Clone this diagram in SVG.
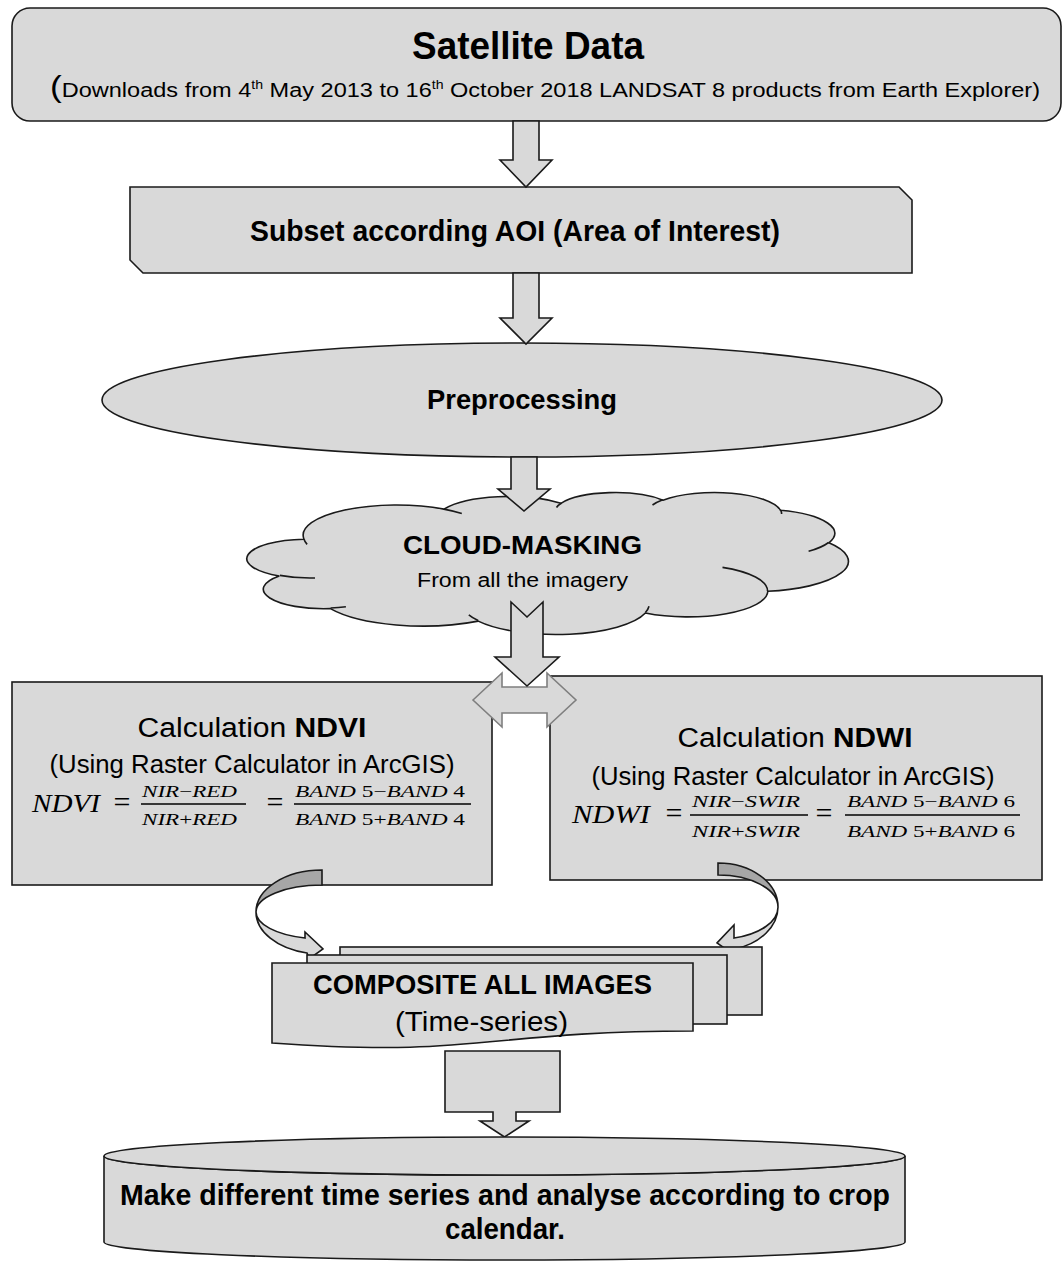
<svg xmlns="http://www.w3.org/2000/svg" width="1063" height="1262" viewBox="0 0 1063 1262">
<style>
.s{fill:#d9d9d9;stroke:#1a1a1a;stroke-width:1.6}
.t{font-family:"Liberation Sans",Arial,sans-serif;fill:#000}
.b{font-weight:bold}
.m{font-family:"Liberation Serif","Times New Roman",serif;font-style:italic;fill:#000}
.u{font-style:normal}
.fl{stroke:#000;stroke-width:1.3}
.dk{fill:#a6a6a6;stroke:#1a1a1a;stroke-width:1.6}
.g{fill:#d9d9d9;stroke:#7f7f7f;stroke-width:1.6}
.in{fill:none;stroke:#1a1a1a;stroke-width:1.6}
</style>
<rect width="1063" height="1262" fill="#fff"/>
<g id="satellite-data">
<rect class="s" x="12" y="8" width="1049" height="113" rx="18"/>
<text class="t b" x="528" y="59" font-size="38" text-anchor="middle" textLength="232" lengthAdjust="spacingAndGlyphs">Satellite Data</text>
<text class="t" x="50" y="97" font-size="20" textLength="990" lengthAdjust="spacingAndGlyphs"><tspan font-size="30">(</tspan>Downloads from 4<tspan font-size="12" dy="-8">th</tspan><tspan dy="8"> May 2013 to 16</tspan><tspan font-size="12" dy="-8">th</tspan><tspan dy="8"> October 2018 LANDSAT 8 products from Earth Explorer)</tspan></text>
</g>
<g id="subset-aoi">
<path class="s" d="M130,187 H899 L912,200 V273 H143 L130,260 Z"/>
<text class="t b" x="515" y="241" font-size="29" text-anchor="middle" textLength="530" lengthAdjust="spacingAndGlyphs">Subset according AOI (Area of Interest)</text>
</g>
<g id="preprocessing">
<ellipse class="s" cx="522" cy="400" rx="420" ry="57"/>
<text class="t b" x="522" y="409" font-size="28" text-anchor="middle" textLength="190" lengthAdjust="spacingAndGlyphs">Preprocessing</text>
</g>
<g id="cloud-masking">
<path class="s" d="M304.0,539.2 A93.5,30.2 0 0 1 443.9,509.1 A73.8,23.9 0 0 1 560.9,503.3 A60.4,19.5 0 0 1 663.0,500.2 A67.2,21.7 0 0 1 780.5,510.3 A73.8,23.9 0 0 1 828.9,542.8 A93.8,30.3 0 0 1 767.8,591.3 A80.1,25.9 0 0 1 645.4,613.0 A93.5,30.3 0 0 1 478.2,621.1 A106.9,34.7 0 0 1 330.4,608.6 A60.4,19.5 0 0 1 279.3,576.0 A60.1,19.5 0 0 1 304.0,539.2 Z"/>
<path class="in" d="M315.0,578.0 A60.1,19.5 0 0 1 279.9,575.4 M345.9,606.7 A60.4,19.5 0 0 1 330.6,608.0 M478.1,620.5 A93.5,30.3 0 0 1 468.8,614.8 M649.0,606.2 A93.5,30.3 0 0 1 645.4,612.5 M722.5,567.4 A80.1,25.9 0 0 1 767.5,590.9 M828.6,542.5 A73.8,23.9 0 0 1 808.6,551.3 M780.5,509.8 A67.2,21.7 0 0 1 781.6,514.0 M652.5,505.0 A67.2,21.7 0 0 1 662.8,499.7 M556.5,507.5 A60.4,19.5 0 0 1 561.5,503.0 M443.8,509.1 A93.5,30.2 0 0 1 461.8,513.5 M307.1,544.4 A93.5,30.2 0 0 1 304.0,539.2"/>
<text class="t b" x="522.5" y="554" font-size="26" text-anchor="middle" textLength="239" lengthAdjust="spacingAndGlyphs">CLOUD-MASKING</text>
<text class="t" x="522.5" y="587" font-size="20" text-anchor="middle" textLength="211" lengthAdjust="spacingAndGlyphs">From all the imagery</text>
</g>
<g id="ndvi">
<rect class="s" x="12" y="682" width="480" height="203"/>
<text class="t" x="252" y="737" font-size="27" text-anchor="middle" textLength="229" lengthAdjust="spacingAndGlyphs">Calculation <tspan class="b">NDVI</tspan></text>
<text class="t" x="252" y="773" font-size="25" text-anchor="middle" textLength="405" lengthAdjust="spacingAndGlyphs">(Using Raster Calculator in ArcGIS)</text>
<text class="m" x="32" y="812" font-size="25" textLength="68" lengthAdjust="spacingAndGlyphs">NDVI</text>
<text class="m u" x="122" y="812" font-size="30" text-anchor="middle">=</text>
<text class="m" x="142" y="797" font-size="16" textLength="95" lengthAdjust="spacingAndGlyphs">NIR<tspan class="u">−</tspan>RED</text>
<line class="fl" x1="141" y1="804" x2="246" y2="804"/>
<text class="m" x="142" y="825" font-size="16" textLength="95" lengthAdjust="spacingAndGlyphs">NIR<tspan class="u">+</tspan>RED</text>
<text class="m u" x="275" y="812" font-size="30" text-anchor="middle">=</text>
<text class="m" x="295" y="797" font-size="16" textLength="170" lengthAdjust="spacingAndGlyphs">BAND <tspan class="u">5−</tspan>BAND <tspan class="u">4</tspan></text>
<line class="fl" x1="294" y1="804" x2="471" y2="804"/>
<text class="m" x="295" y="825" font-size="16" textLength="170" lengthAdjust="spacingAndGlyphs">BAND <tspan class="u">5+</tspan>BAND <tspan class="u">4</tspan></text>
</g>
<g id="ndwi">
<rect class="s" x="550" y="676" width="492" height="204"/>
<text class="t" x="795" y="747" font-size="27" text-anchor="middle" textLength="235" lengthAdjust="spacingAndGlyphs">Calculation <tspan class="b">NDWI</tspan></text>
<text class="t" x="793" y="785" font-size="25" text-anchor="middle" textLength="403" lengthAdjust="spacingAndGlyphs">(Using Raster Calculator in ArcGIS)</text>
<text class="m" x="572" y="823" font-size="25" textLength="78" lengthAdjust="spacingAndGlyphs">NDWI</text>
<text class="m u" x="674" y="823" font-size="30" text-anchor="middle">=</text>
<text class="m" x="692" y="807" font-size="16" textLength="108" lengthAdjust="spacingAndGlyphs">NIR<tspan class="u">−</tspan>SWIR</text>
<line class="fl" x1="690" y1="815" x2="808" y2="815"/>
<text class="m" x="692" y="837" font-size="16" textLength="108" lengthAdjust="spacingAndGlyphs">NIR<tspan class="u">+</tspan>SWIR</text>
<text class="m u" x="824" y="823" font-size="30" text-anchor="middle">=</text>
<text class="m" x="847" y="807" font-size="16" textLength="168" lengthAdjust="spacingAndGlyphs">BAND <tspan class="u">5−</tspan>BAND <tspan class="u">6</tspan></text>
<line class="fl" x1="845" y1="815" x2="1020" y2="815"/>
<text class="m" x="847" y="837" font-size="16" textLength="168" lengthAdjust="spacingAndGlyphs">BAND <tspan class="u">5+</tspan>BAND <tspan class="u">6</tspan></text>
</g>
<g id="connectors">
<path class="s" d="M513,121 H539 V160 H552 L526,187 L500,160 H513 Z"/>
<path class="s" d="M513,273 H539 V318 H552 L526,344 L500,318 H513 Z"/>
<path class="s" d="M511,457 H537 V489 H550 L524,511 L498,489 H511 Z"/>
<path class="g" d="M473,700 L502,673 V687 H547 V673 L576,700 L547,727 V713 H502 V727 Z"/>
<path class="s" d="M511,602 L527,617 L543,602 V657 H559 L527,686 L495,657 H511 Z"/>
<path class="dk" d="M322,870 A66,42 0 0 0 256,912 A66,27 0 0 1 322,885 Z"/>
<path class="s" d="M256,912 A66,42 0 0 0 307,953 L309,959 L323,949 L305,932 L305,938 A66,27 0 0 1 256,912 Z"/>
<path class="dk" d="M718,863 A60,44 0 0 1 778,907 A60,32 0 0 0 718,875 Z"/>
<path class="s" d="M778,907 A60,44 0 0 1 735,949 L737,957 L717,943 L734,925 L734,938 A60,32 0 0 0 778,907 Z"/>
</g>
<g id="composite">
<rect class="s" x="340" y="947" width="422" height="68"/>
<rect class="s" x="307" y="955" width="420" height="69"/>
<path class="s" d="M272,963 H693 V1031 C482.5,1031 482.5,1058 272,1043 Z"/>
<text class="t b" x="482.5" y="994" font-size="28" text-anchor="middle" textLength="339" lengthAdjust="spacingAndGlyphs">COMPOSITE ALL IMAGES</text>
<text class="t" x="395" y="1031" font-size="28" textLength="173" lengthAdjust="spacingAndGlyphs">(Time-series)</text>
</g>
<g id="connector-callout">
<path class="s" d="M445,1051 H560 V1112 H516 V1121 H529 L504.5,1137 L480,1121 H493 V1112 H445 Z"/>
</g>
<g id="time-series-analysis">
<path class="s" d="M104,1156 A400.5,19 0 0 0 905,1156 V1242 A400.5,18 0 0 1 104,1242 Z"/>
<ellipse class="s" cx="504.5" cy="1156" rx="400.5" ry="19"/>
<text class="t b" x="505" y="1205" font-size="30" text-anchor="middle" textLength="770" lengthAdjust="spacingAndGlyphs">Make different time series and analyse according to crop</text>
<text class="t b" x="505" y="1239" font-size="30" text-anchor="middle" textLength="120" lengthAdjust="spacingAndGlyphs">calendar.</text>
</g>
</svg>
